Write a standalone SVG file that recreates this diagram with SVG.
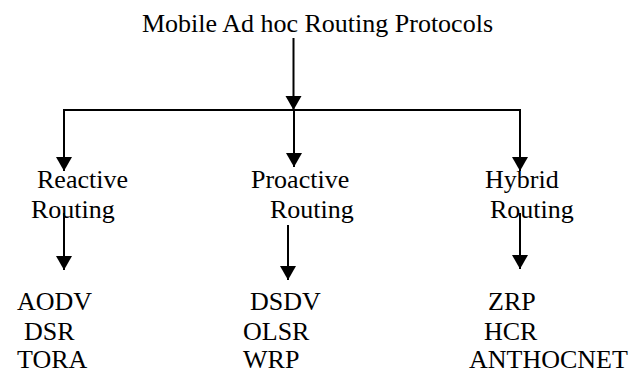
<svg xmlns="http://www.w3.org/2000/svg" width="643" height="373" viewBox="0 0 643 373">
<defs>
<style>
text{font-family:"Liberation Serif","Times New Roman",serif;font-size:26px;fill:#000}
.c{fill:none;stroke:#000;stroke-width:2}
.h{fill:#000;stroke:none}
</style>
</defs>
<rect width="643" height="373" fill="#fff"/>
<g id="connectors">
<path class="c" d="M293.5,38 V110"/>
<path class="h" d="M285.5,96 L301.5,96 L293.5,110 Z"/>
<path class="c" d="M64,171 V110 H520 V171"/>
<path class="h" d="M56,157 L72,157 L64,171 Z"/>
<path class="h" d="M512,157 L528,157 L520,171 Z"/>
<path class="c" d="M294,110 V167"/>
<path class="h" d="M286,153 L302,153 L294,167 Z"/>
<path class="c" d="M64,213 V270"/>
<path class="h" d="M56,256 L72,256 L64,270 Z"/>
<path class="c" d="M288,225 V280"/>
<path class="h" d="M280,266 L296,266 L288,280 Z"/>
<path class="c" d="M520,213 V269"/>
<path class="h" d="M512,255 L528,255 L520,269 Z"/>
</g>
<g id="root"><text x="142" y="32">Mobile Ad hoc Routing Protocols</text></g>
<g id="reactive"><text x="37" y="188">Reactive</text><text x="31" y="218">Routing</text></g>
<g id="proactive"><text x="251" y="188">Proactive</text><text x="270" y="218">Routing</text></g>
<g id="hybrid"><text x="485" y="188">Hybrid</text><text x="490" y="218">Routing</text></g>
<g id="reactive-list"><text x="17" y="310">AODV</text><text x="24" y="340">DSR</text><text x="17" y="368">TORA</text></g>
<g id="proactive-list"><text x="250" y="310">DSDV</text><text x="243" y="340">OLSR</text><text x="243" y="368">WRP</text></g>
<g id="hybrid-list"><text x="488" y="310">ZRP</text><text x="484" y="340">HCR</text><text x="469" y="368">ANTHOCNET</text></g>
</svg>
